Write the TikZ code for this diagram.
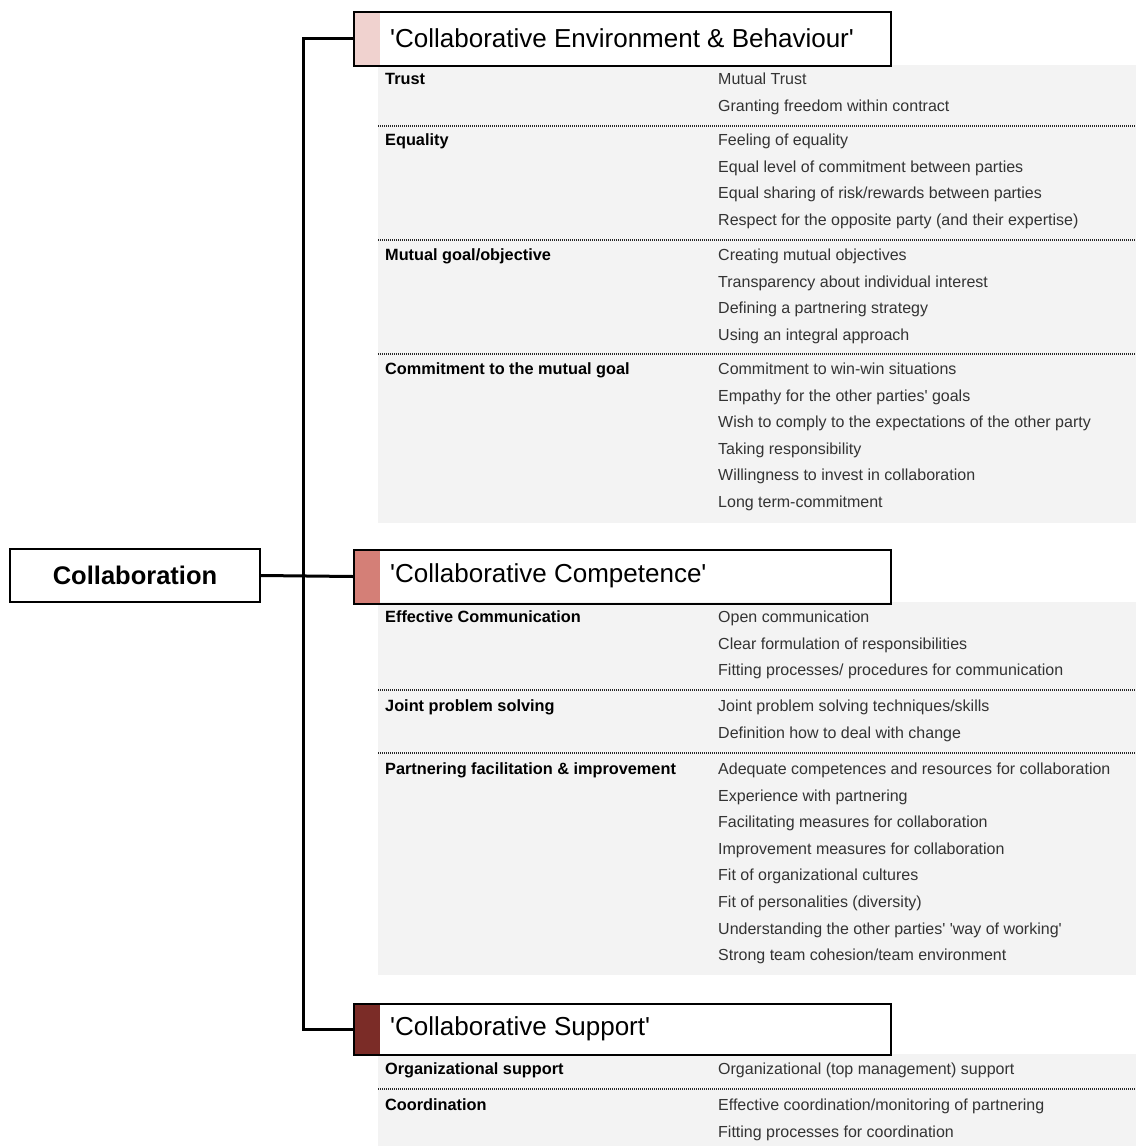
\documentclass[tikz,border=0pt]{standalone}
\usepackage{fontspec}
\setmainfont{Liberation Sans}[Ligatures=TeXOff]
\definecolor{panelgray}{HTML}{F3F3F3}
\definecolor{itemgray}{HTML}{333333}
\definecolor{stripA}{HTML}{F0D2CF}
\definecolor{stripB}{HTML}{D47F77}
\definecolor{stripC}{HTML}{7B2C27}
\newcommand\itemrows[3]{%
  \foreach \t [count=\i from 0] in {#3}
    \node[item] (#2-\i) at (718,{#1+26.6*\i}) {\t};}
\begin{document}
\begin{tikzpicture}[x=1pt,y=-1pt,
  conn/.style={line width=3pt},
  hdrbox/.style={draw, line width=2pt, anchor=north west, minimum width=537pt, minimum height=54pt, inner sep=0},
  hdrtext/.style={anchor=west, inner sep=0, font=\fontsize{26}{30}\selectfont},
  cat/.style={anchor=base west, inner sep=0, font=\fontsize{16.3}{19}\selectfont\bfseries},
  item/.style={anchor=base west, inner sep=0, text=itemgray, font=\fontsize{16}{19}\selectfont},
  sepline/.style={draw=black!85, line width=2pt, dash pattern=on 1pt off 1pt},
  panel/.style={fill=panelgray}]
\useasboundingbox (0,0) rectangle (1136,1146);

% grey panels behind each group
\fill[panel] (378,65) rectangle (1136,523);
\fill[panel] (378,602) rectangle (1136,975);
\fill[panel] (378,1054) rectangle (1136,1146);

% root box
\node[draw, line width=2pt, minimum width=250pt, minimum height=53pt, inner sep=0,
      font=\fontsize{25.5}{30}\selectfont\bfseries] (root) at (135,575.5) {Collaboration};

% group headers
\fill[stripA] (353,11) rectangle (380,65);
\node[hdrbox] (h1) at (353,10.5) {};
\node[hdrtext] (t1) at (390,38) {'Collaborative Environment \& Behaviour'};
\fill[stripB] (353,548.5) rectangle (380,602.5);
\node[hdrbox] (h2) at (353,548.5) {};
\node[hdrtext] (t2) at (390,576) {'Collaborative Competence'};
\fill[stripC] (353,1003) rectangle (380,1054);
\node[hdrbox, minimum height=51pt] (h3) at (353,1002.5) {};
\node[hdrtext] (t3) at (390,1028.5) {'Collaborative Support'};

% tree connectors
\coordinate (trunk) at (303.5,0);
\draw[conn] (h1.west) -| (trunk |- h3.west) -- (h3.west);
\draw[conn] (root.east) -- (h2.west);

% group 1
\node[cat] (c1) at (385,84.5) {Trust};
\itemrows{84.5}{a}{Mutual Trust,Granting freedom within contract}
\draw[sepline] (378,126) -- (1136,126);
\node[cat] (c2) at (385,145.5) {Equality};
\itemrows{145.5}{b}{Feeling of equality,Equal level of commitment between parties,Equal sharing of risk/rewards between parties,Respect for the opposite party (and their expertise)}
\draw[sepline] (378,240) -- (1136,240);
\node[cat] (c3) at (385,260.5) {Mutual goal/objective};
\itemrows{260.5}{c}{Creating mutual objectives,Transparency about individual interest,Defining a partnering strategy,Using an integral approach}
\draw[sepline] (378,354) -- (1136,354);
\node[cat] (c4) at (385,374.5) {Commitment to the mutual goal};
\itemrows{374.5}{d}{Commitment to win-win situations,Empathy for the other parties' goals,Wish to comply to the expectations of the other party,Taking responsibility,Willingness to invest in collaboration,Long term-commitment}

% group 2
\node[cat] (c5) at (385,622.5) {Effective Communication};
\itemrows{622.5}{e}{Open communication,Clear formulation of responsibilities,Fitting processes/ procedures for communication}
\draw[sepline] (378,690) -- (1136,690);
\node[cat] (c6) at (385,711.5) {Joint problem solving};
\itemrows{711.5}{f}{Joint problem solving techniques/skills,Definition how to deal with change}
\draw[sepline] (378,753) -- (1136,753);
\node[cat] (c7) at (385,774.5) {Partnering facilitation \& improvement};
\itemrows{774.5}{g}{Adequate competences and resources for collaboration,Experience with partnering,Facilitating measures for collaboration,Improvement measures for collaboration,Fit of organizational cultures,Fit of personalities (diversity),Understanding the other parties' 'way of working',Strong team cohesion/team environment}

% group 3
\node[cat] (c8) at (385,1074.5) {Organizational support};
\itemrows{1074.5}{h}{Organizational (top management) support}
\draw[sepline] (378,1089) -- (1136,1089);
\node[cat] (c9) at (385,1110.5) {Coordination};
\itemrows{1110.5}{k}{Effective coordination/monitoring of partnering,Fitting processes for coordination}
\end{tikzpicture}
\end{document}
